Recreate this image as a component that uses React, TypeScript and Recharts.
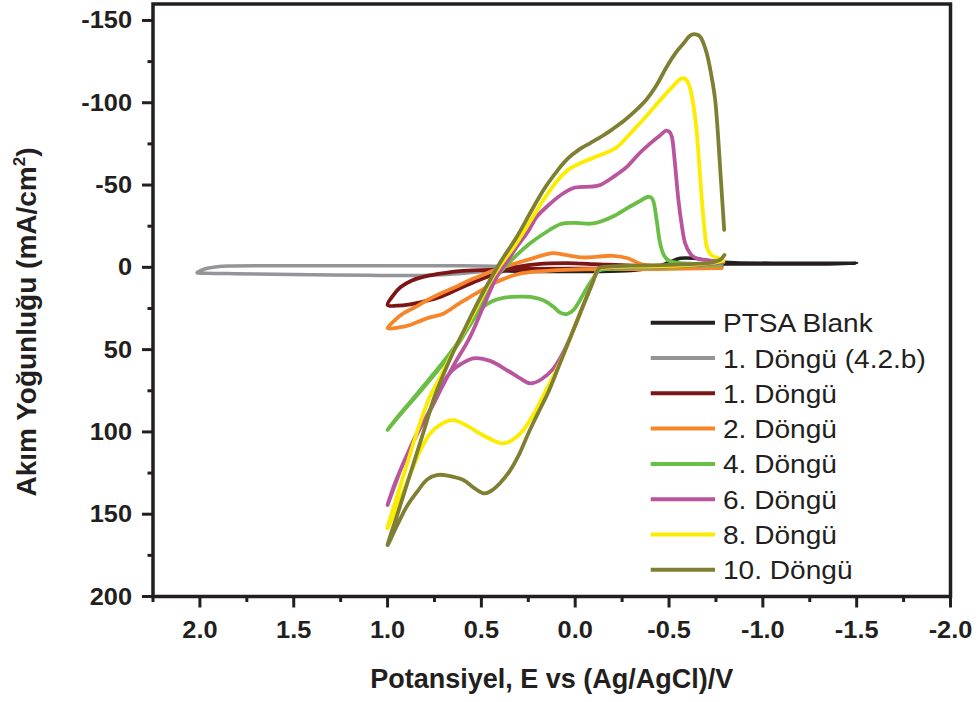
import React from 'react';
import { LineChart, Line, XAxis, YAxis, ReferenceArea, Legend } from 'recharts';

// Potential (V vs Ag/AgCl) and current density (mA/cm²) along each sweep, in scan order.
const ptsaBlank: [number, number][] = [
  [0.5, 2], [0.2, 2.5], [-0.1, 2.5], [-0.3, 2], [-0.42, 0], [-0.5, -3], [-0.56, -5.5], [-0.63, -5.5],
  [-0.72, -4], [-0.85, -2.8], [-1.1, -2.5], [-1.3, -2.5], [-1.5, -2.5], [-1.3, -2], [-1.0, -2],
  [-0.8, -2], [-0.6, -1], [-0.3, 1], [0.0, 2], [0.3, 2], [0.5, 2],
];

const cycle1Ref: [number, number][] = [
  [0.3, -0.5], [0.7, -1], [1.2, -1], [1.6, -1], [1.85, -0.8], [1.96, 0.6], [2.015, 3.2],
  [1.97, 3.6], [1.85, 3.8], [1.7, 4], [1.4, 4.5], [1.1, 4.8], [0.85, 5], [0.65, 4], [0.45, 2], [0.3, 0.5],
];

const cycle1: [number, number][] = [
  [-0.78, -0.5], [-0.55, -0.5], [-0.3, -1], [-0.1, -2], [0.05, -2.5], [0.2, -2], [0.3, -0.5],
  [0.38, 2], [0.45, 5], [0.55, 9.5], [0.63, 13.5], [0.72, 18], [0.8, 20.5], [0.88, 22.5],
  [0.95, 23.3], [1.0, 22.8], [0.97, 17], [0.93, 12], [0.87, 8], [0.8, 5.5], [0.7, 3.5],
  [0.6, 2.2], [0.45, 1.5], [0.25, 1], [0.0, 0.8], [-0.3, 0.5], [-0.6, 0.2], [-0.78, 0],
];

const cycle2: [number, number][] = [
  [-0.78, 0.5], [-0.45, 1], [-0.15, 1], [0.05, 1.5], [0.2, 2.5], [0.3, 4], [0.38, 7], [0.45, 10.5],
  [0.5, 14], [0.56, 18], [0.62, 22], [0.7, 28], [0.79, 31], [0.88, 35], [0.94, 36.5], [1.0, 37],
  [0.96, 32], [0.916, 28], [0.85, 24], [0.79, 20], [0.72, 16], [0.65, 12.6], [0.56, 7.7],
  [0.48, 4], [0.4, 0.5], [0.33, -2], [0.24, -5], [0.13, -8.5], [0.05, -7.5], [-0.04, -6],
  [-0.12, -6.5], [-0.2, -7], [-0.28, -5.5], [-0.35, -2], [-0.45, -0.5], [-0.6, 0], [-0.78, 0.5],
];

const cycle4: [number, number][] = [
  [-0.78, -1.5], [-0.65, -1], [-0.45, 0], [-0.3, 0.5], [-0.18, 1], [-0.125, 2], [-0.1, 6],
  [-0.06, 13], [-0.02, 21], [0.01, 26], [0.045, 28.4], [0.08, 27.5], [0.116, 24], [0.17, 20],
  [0.24, 18], [0.3, 17.8], [0.383, 18.5], [0.44, 20.5], [0.5, 25], [0.56, 35], [0.6, 42],
  [0.64, 48], [0.7, 57], [0.8, 71], [0.88, 82], [0.94, 90], [1.0, 98.8], [0.94, 90.5],
  [0.88, 82.5], [0.8, 72], [0.7, 58], [0.62, 46], [0.55, 32], [0.49, 20], [0.436, 8.5],
  [0.4, 3], [0.33, -5.5], [0.24, -14.6], [0.16, -21], [0.08, -26.2], [0.0, -27], [-0.08, -26.5],
  [-0.133, -27.7], [-0.204, -31], [-0.275, -35.8], [-0.34, -40], [-0.39, -42.9], [-0.417, -40],
  [-0.435, -28], [-0.45, -16], [-0.47, -8], [-0.5, -4], [-0.56, -2.5], [-0.68, -2], [-0.78, -1.5],
];

const cycle6: [number, number][] = [
  [-0.79, -3], [-0.65, -1.5], [-0.45, -0.5], [-0.25, 0], [-0.15, 0.5], [-0.12, 2], [-0.09, 10],
  [-0.04, 24], [0.02, 41], [0.07, 53], [0.12, 62], [0.18, 68], [0.24, 70.5], [0.3, 67],
  [0.365, 62.4], [0.45, 57], [0.543, 55.3], [0.631, 60.4], [0.68, 66], [0.72, 74.6], [0.78, 88],
  [0.85, 103], [0.92, 120], [0.96, 132], [1.0, 144.4], [0.96, 131], [0.9, 115], [0.84, 100],
  [0.773, 87], [0.72, 75], [0.65, 60], [0.56, 42.2], [0.49, 24], [0.418, 5.7], [0.36, -4],
  [0.311, -12.5], [0.25, -22], [0.205, -30.7], [0.13, -39], [0.063, -45], [0.0, -48.5],
  [-0.08, -49], [-0.133, -50], [-0.204, -55], [-0.275, -61], [-0.34, -69], [-0.4, -75.3],
  [-0.45, -80], [-0.488, -83], [-0.515, -79.3], [-0.53, -65], [-0.55, -40.9], [-0.57, -24],
  [-0.586, -14.6], [-0.615, -8], [-0.648, -5.5], [-0.72, -4], [-0.79, -3],
];

const cycle8: [number, number][] = [
  [-0.79, -4], [-0.72, -2.5], [-0.55, -1], [-0.35, -0.5], [-0.18, 0], [-0.12, 1.5], [-0.09, 10],
  [-0.04, 24], [0.02, 41], [0.07, 55], [0.12, 67], [0.17, 78], [0.22, 89], [0.276, 98.8],
  [0.33, 104.5], [0.383, 107], [0.44, 105], [0.507, 101], [0.58, 96], [0.649, 92.8], [0.71, 95],
  [0.773, 101], [0.82, 110], [0.862, 121], [0.93, 140], [1.0, 158.6], [0.96, 143], [0.9, 121],
  [0.84, 99], [0.78, 80], [0.73, 69], [0.65, 51], [0.55, 30], [0.46, 10], [0.4, -1],
  [0.311, -15], [0.24, -28], [0.169, -41], [0.1, -52], [0.04, -59], [-0.026, -63.2],
  [-0.133, -68.2], [-0.222, -73], [-0.31, -83.4], [-0.38, -92], [-0.453, -101.6], [-0.52, -110],
  [-0.568, -114.8], [-0.6, -112.5], [-0.625, -102], [-0.648, -81.4], [-0.675, -40.9],
  [-0.69, -22], [-0.701, -12.5], [-0.725, -7.5], [-0.755, -6], [-0.79, -4],
];

const cycle10: [number, number][] = [
  [-0.795, -7.5], [-0.77, -4.5], [-0.7, -2.5], [-0.5, -1.5], [-0.3, -1], [-0.16, -0.3], [-0.12, 1.5],
  [-0.09, 10], [-0.04, 24], [0.02, 41], [0.08, 58], [0.14, 75], [0.2, 89], [0.25, 101],
  [0.3, 114], [0.35, 124], [0.4, 131], [0.45, 136], [0.49, 137.3], [0.54, 134], [0.596, 129.2],
  [0.68, 126.5], [0.738, 126.2], [0.79, 129], [0.84, 136], [0.898, 145.4], [0.95, 157],
  [1.0, 168.7], [0.95, 151], [0.9, 133], [0.85, 115], [0.8, 97], [0.76, 82], [0.72, 70],
  [0.66, 54], [0.6, 40], [0.54, 26], [0.49, 15], [0.454, 7.7], [0.4, -3], [0.311, -18.6],
  [0.24, -33], [0.169, -47], [0.1, -58], [0.04, -66], [-0.02, -71.5], [-0.08, -75.5],
  [-0.14, -79.5], [-0.2, -84], [-0.26, -89], [-0.32, -95], [-0.38, -102], [-0.43, -110],
  [-0.488, -121.9], [-0.54, -131], [-0.577, -136], [-0.61, -140.5], [-0.64, -141.6],
  [-0.67, -139.5], [-0.701, -130], [-0.725, -117], [-0.746, -101.6], [-0.76, -82], [-0.772, -61],
  [-0.784, -40], [-0.794, -22.7],
];

const seriesNames = [
  'PTSA Blank', '1. Döngü (4.2.b)', '1. Döngü', '2. Döngü', '4. Döngü', '6. Döngü', '8. Döngü', '10. Döngü',
];
const seriesColors = ['#231f20', '#939598', '#7d1517', '#f7862a', '#6abd45', '#b9559f', '#fbec00', '#7f7f33'];
const seriesValues = [ptsaBlank, cycle1Ref, cycle1, cycle2, cycle4, cycle6, cycle8, cycle10];

const xTicks = [2.25, 2, 1.75, 1.5, 1.25, 1, 0.75, 0.5, 0.25, 0, -0.25, -0.5, -0.75, -1, -1.25, -1.5, -1.75, -2];
const yTicks = [-150, -125, -100, -75, -50, -25, 0, 25, 50, 75, 100, 125, 150, 175, 200];

const INK = '#231f20';
const FONT = '"Liberation Sans", Arial, Helvetica, sans-serif';
const W = 979;
const H = 702;
const PLOT_LEFT = 153;
const PLOT_TOP = 4;
const PLOT_RIGHT = 950.5;
const PLOT_BOTTOM = 596.5;

// Uniform Catmull-Rom spline; works for sweeps that double back on themselves.
function catmullRom(context: any) {
  let pts: [number, number][] = [];
  return {
    areaStart() {},
    areaEnd() {},
    lineStart() {
      pts = [];
    },
    point(x: number, y: number) {
      pts.push([+x, +y]);
    },
    lineEnd() {
      const n = pts.length;
      if (!n) return;
      context.moveTo(pts[0][0], pts[0][1]);
      for (let i = 0; i < n - 1; i++) {
        const p0 = pts[Math.max(i - 1, 0)];
        const p1 = pts[i];
        const p2 = pts[i + 1];
        const p3 = pts[Math.min(i + 2, n - 1)];
        context.bezierCurveTo(
          p1[0] + (p2[0] - p0[0]) / 6,
          p1[1] + (p2[1] - p0[1]) / 6,
          p2[0] - (p3[0] - p1[0]) / 6,
          p2[1] - (p3[1] - p1[1]) / 6,
          p2[0],
          p2[1],
        );
      }
    },
  };
}

const isMajor = (v: number, step: number) => Math.abs(v / step - Math.round(v / step)) < 1e-6;

const XTick = (props: any) => {
  const { x, payload } = props;
  const v = payload.value as number;
  const major = isMajor(v, 0.5);
  return (
    <g>
      <line x1={x} x2={x} y1={PLOT_BOTTOM} y2={PLOT_BOTTOM + (major ? 11 : 5.5)} stroke={INK} strokeWidth={3} />
      {major && (
        <text
          transform={`translate(${x},${PLOT_BOTTOM + 41}) scale(1.08,1)`}
          textAnchor="middle"
          fontFamily={FONT}
          fontWeight="bold"
          fontSize={23.5}
          fill={INK}
        >
          {v.toFixed(1)}
        </text>
      )}
    </g>
  );
};

const TopTick = (props: any) => {
  const { x } = props;
  return <line x1={x} x2={x} y1={PLOT_TOP + 1} y2={PLOT_TOP + 5} stroke="#9a9a9a" strokeWidth={1} />;
};

const YTick = (props: any) => {
  const { y, payload } = props;
  const v = payload.value as number;
  const major = isMajor(v, 50);
  return (
    <g>
      <line x1={PLOT_LEFT - (major ? 11 : 5.5)} x2={PLOT_LEFT} y1={y} y2={y} stroke={INK} strokeWidth={3} />
      {major && (
        <text
          transform={`translate(${PLOT_LEFT - 21},${y + 8}) scale(1.08,1)`}
          textAnchor="end"
          fontFamily={FONT}
          fontWeight="bold"
          fontSize={23.5}
          fill={INK}
        >
          {String(v)}
        </text>
      )}
    </g>
  );
};

const XTitle = (props: any) => {
  const vb = props.viewBox || {};
  const cx = (vb.x ?? PLOT_LEFT) + (vb.width ?? PLOT_RIGHT - PLOT_LEFT) / 2;
  return (
    <text x={cx} y={PLOT_BOTTOM + 91} textAnchor="middle" fontFamily={FONT} fontWeight="bold" fontSize={27} fill={INK}>
      Potansiyel, E vs (Ag/AgCl)/V
    </text>
  );
};

const YTitle = () => (
  <text
    transform={`translate(36,322) rotate(-90)`}
    textAnchor="middle"
    fontFamily={FONT}
    fontWeight="bold"
    fontSize={28}
    fill={INK}
  >
    Akım Yoğunluğu (mA/cm
    <tspan dy={-11} fontSize={17}>2</tspan>
    <tspan dy={11}>)</tspan>
  </text>
);

const LEGEND_LEFT = 640;
const LEGEND_TOP = 300;

const LegendBox = () => (
  <svg width={330} height={300} style={{ display: 'block', overflow: 'visible' }}>
    {seriesNames.map((name, i) => {
      const cy = 22.7 + i * 35.3;
      return (
        <g key={name}>
          <line x1={10.7} x2={75} y1={cy} y2={cy} stroke={seriesColors[i]} strokeWidth={4} />
          <text
            transform={`translate(83,${cy + 9.5}) scale(1.08,1)`}
            fontFamily={FONT}
            fontSize={26}
            fill={INK}
          >
            {name}
          </text>
        </g>
      );
    })}
  </svg>
);

const toPoints = (arr: [number, number][]) => arr.map(([x, y]) => ({ x, y }));

export default function App() {
  return (
    <div style={{ position: 'absolute', left: 0, top: 0, width: W, height: H, background: '#fff' }}>
      <LineChart width={W} height={H} margin={{ top: PLOT_TOP, right: W - PLOT_RIGHT, bottom: 0, left: 0 }}>
        <XAxis
          xAxisId="bottom"
          type="number"
          dataKey="x"
          domain={[-2, 2.25]}
          reversed
          allowDataOverflow
          ticks={xTicks}
          interval={0}
          tick={XTick}
          tickLine={false}
          axisLine={false}
          height={H - PLOT_BOTTOM}
          label={{ content: XTitle }}
        />
        <XAxis
          xAxisId="top"
          orientation="top"
          type="number"
          dataKey="x"
          domain={[-2, 2.25]}
          reversed
          allowDataOverflow
          ticks={xTicks}
          interval={0}
          tick={TopTick}
          tickLine={false}
          axisLine={false}
          height={0}
        />
        <YAxis
          type="number"
          domain={[-160, 200]}
          reversed
          allowDataOverflow
          ticks={yTicks}
          interval={0}
          tick={YTick}
          tickLine={false}
          axisLine={false}
          width={PLOT_LEFT}
          label={{ content: YTitle }}
        />
        <ReferenceArea
          xAxisId="bottom"
          x1={2.25}
          x2={-2}
          y1={-160}
          y2={200}
          fill="none"
          fillOpacity={0}
          stroke={INK}
          strokeWidth={3.5}
        />
        {seriesValues.map((vals, i) => (
          <Line
            key={seriesNames[i]}
            xAxisId="bottom"
            data={toPoints(vals)}
            dataKey="y"
            name={seriesNames[i]}
            type={catmullRom as any}
            stroke={seriesColors[i]}
            strokeWidth={i < 2 ? 3.5 : 3.8}
            strokeLinecap="round"
            strokeLinejoin="round"
            dot={false}
            activeDot={false}
            isAnimationActive={false}
          />
        ))}
        <Legend
          layout="vertical"
          align="center"
          verticalAlign="middle"
          wrapperStyle={{ left: LEGEND_LEFT, top: LEGEND_TOP, width: 330, height: 300 }}
          content={LegendBox}
        />
      </LineChart>
    </div>
  );
}
